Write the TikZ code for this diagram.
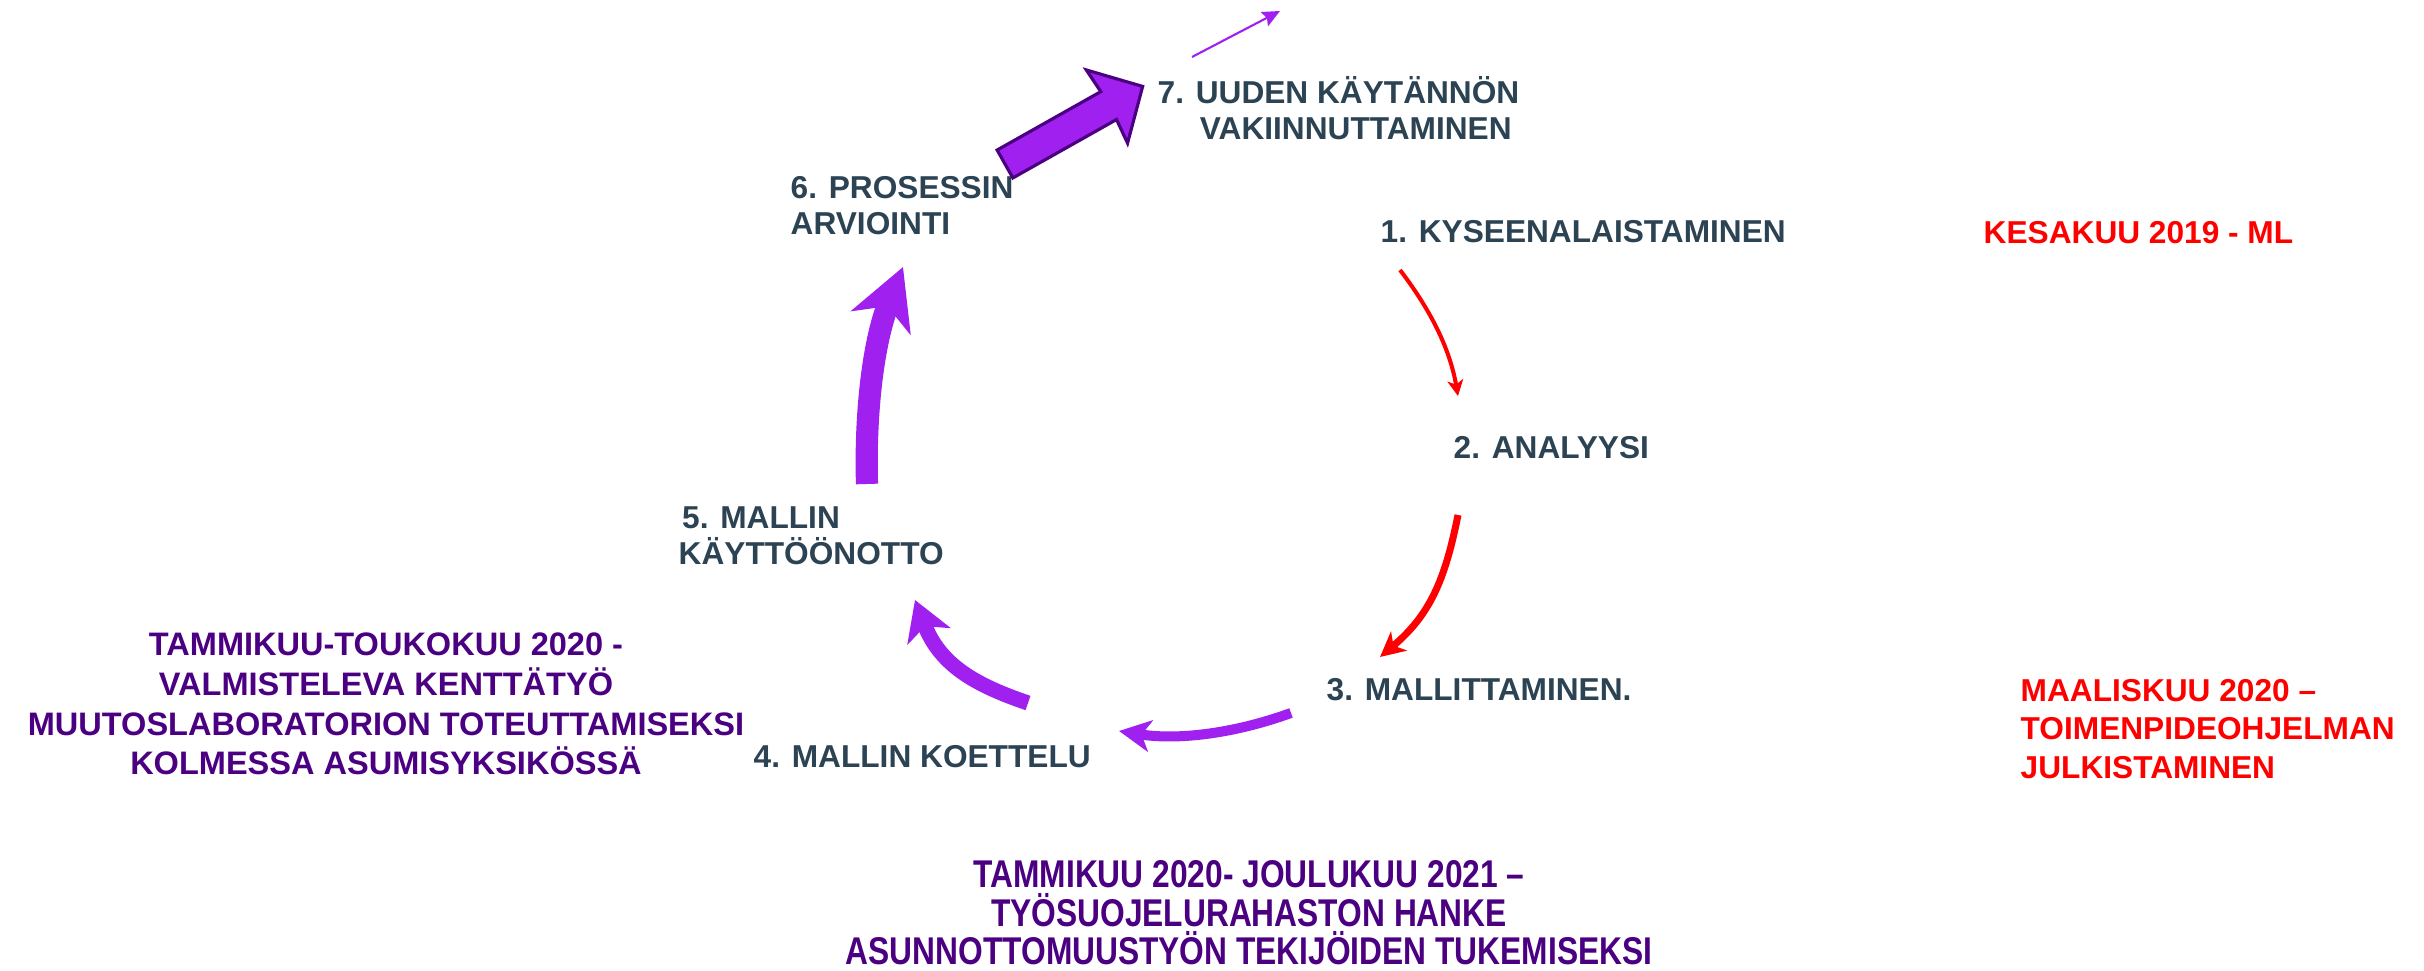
\documentclass[tikz,border=0pt]{standalone}
\usepackage{fontspec}
\setmainfont{Liberation Sans}
\newfontfamily\narrowfont[FakeStretch=0.82]{Liberation Sans}
\usetikzlibrary{arrows.meta}
\definecolor{darktxt}{HTML}{2C4354}
\definecolor{redc}{HTML}{FF0000}
\definecolor{ptext}{HTML}{4B0082}
\definecolor{parrow}{HTML}{A020F0}
\tikzset{
  lab/.style={text=darktxt, font=\fontsize{9}{10.2}\selectfont\bfseries, inner sep=0pt},
  redtxt/.style={text=redc, font=\fontsize{9}{11}\selectfont\bfseries, inner sep=0pt},
  ptxt/.style={text=ptext, font=\fontsize{9.25}{11.3}\selectfont\bfseries, inner sep=0pt},
  ptxtn/.style={text=ptext, font=\narrowfont\fontsize{11}{10.9}\selectfont\bfseries, inner sep=0pt},
  redone/.style={draw=redc, line width=1.15pt, -{Stealth[length=4.5pt, width=4.5pt, inset=1.2pt]}},
  redtwo/.style={draw=redc, line width=2pt, -{Stealth[length=7pt, width=7pt, inset=2pt]}},
  pone/.style={draw=parrow, line width=2.85pt, -{Stealth[length=9pt, width=9pt, inset=2.5pt]}},
  ptwo/.style={draw=parrow, line width=4.3pt, -{Stealth[length=11pt, width=13pt, inset=3pt]}},
  pthree/.style={draw=parrow, line width=6.3pt, -{Stealth[length=17pt, width=18pt, inset=5pt]}},
  pthin/.style={draw=parrow, line width=0.6pt, -{Stealth[length=5pt, width=4.5pt, inset=0.8pt]}},
  blockarr/.style={fill=parrow, draw=ptext, line width=0.9pt, line join=miter}
}
\begin{document}
\begin{tikzpicture}[x=0.01cm, y=0.01cm]
\useasboundingbox (0,0) rectangle (2424,-971);
% step labels
\node[lab, anchor=west] (n1) at (1380,-232) {1. KYSEENALAISTAMINEN};
\node[lab, anchor=west] (n2) at (1453,-448) {2. ANALYYSI};
\node[lab, anchor=west] (n3) at (1326,-690) {3. MALLITTAMINEN.};
\node[lab, anchor=west] (n4) at (753,-757) {4. MALLIN KOETTELU};
\node[lab, anchor=west, align=left] (n5) at (678,-536) {\hspace*{1pt}5. MALLIN\\KÄYTTÖÖNOTTO};
\node[lab, anchor=west, align=left] (n6) at (790,-206) {6. PROSESSIN\\ARVIOINTI};
\node[lab, anchor=west, align=left] (n7) at (1157,-108) {7. UUDEN KÄYTÄNNÖN\\\hspace*{12pt}VAKIINNUTTAMINEN};
% dates
\node[redtxt, anchor=west] (r1) at (1983,-233) {KESAKUU 2019 - ML};
\node[redtxt, anchor=west, align=left] (r2) at (2020,-729) {MAALISKUU 2020 –\\TOIMENPIDEOHJELMAN\\JULKISTAMINEN};
\node[ptxt, align=center] (p1) at (386,-704) {TAMMIKUU-TOUKOKUU 2020 -\\VALMISTELEVA KENTTÄTYÖ\\MUUTOSLABORATORION TOTEUTTAMISEKSI\\KOLMESSA ASUMISYKSIKÖSSÄ};
\node[ptxtn, align=center] (p2) at (1249,-913) {TAMMIKUU 2020- JOULUKUU 2021 –\\TYÖSUOJELURAHASTON HANKE\\ASUNNOTTOMUUSTYÖN TEKIJÖIDEN TUKEMISEKSI};
% arrow end points
\coordinate (a1s) at (1400,-270); \coordinate (a1e) at (1458,-396);
\coordinate (a2s) at (1458,-515); \coordinate (a2e) at (1380,-657);
\coordinate (a3s) at (1291,-713); \coordinate (a3e) at (1119,-731);
\coordinate (a4s) at (1028,-703); \coordinate (a4e) at (915,-600);
\coordinate (a5s) at (867,-484); \coordinate (a5e) at (903,-267);
\coordinate (a7s) at (1192,-57); \coordinate (a7e) at (1280,-11);
\draw[redone] (a1s) .. controls (1432,-312) and (1450,-350) .. (a1e);
\draw[redtwo] (a2s) .. controls (1445,-580) and (1430,-615) .. (a2e);
\draw[pone] (a3s) .. controls (1230,-735) and (1175,-740) .. (a3e);
\draw[ptwo] (a4s) .. controls (975,-685) and (940,-665) .. (a4e);
\draw[pthree] (a5s) .. controls (865,-420) and (872,-345) .. (a5e);
\draw[pthin] (a7s) -- (a7e);
% block arrow from 6 to 7
\begin{scope}[shift={(1005,-164)}, rotate=29.4]
\draw[blockarr] (0,-16) -- (119,-16) -- (117,-42) -- (158,0) -- (117,42) -- (119,16) -- (0,16) -- cycle;
\end{scope}
\end{tikzpicture}
\end{document}
